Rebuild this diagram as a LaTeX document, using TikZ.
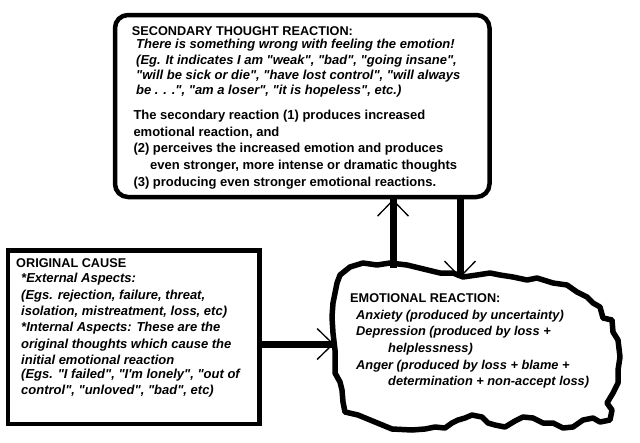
\documentclass[tikz,border=0pt]{standalone}
\usepackage{fontspec}
\setmainfont{Liberation Sans}
\usetikzlibrary{arrows.meta}
\newcommand\quoted[1]{\textquotedbl#1\textquotedbl}

\begin{document}
\begin{tikzpicture}[x=1pt,y=-1pt,
  box/.style={draw,line width=4.5pt,inner sep=0pt},
  head/.style={anchor=base west,inner sep=0pt,font=\fontsize{12.7}{15}\selectfont\bfseries},
  body/.style={anchor=north west,inner sep=0pt,align=left},
  flow/.style={line width=7pt,postaction={draw,line width=1.3pt,-{Straight Barb[length=16pt,width=31pt]}}}]
\useasboundingbox (0,0) rectangle (640,442);

% boxes
\node[box,rounded corners=13pt,minimum width=374.5pt,minimum height=182pt] (second) at (302.25,106) {};
\node[box,minimum width=251.5pt,minimum height=173.5pt] (cause) at (133.75,337.25) {};

% secondary thought reaction
\node[head] (second-head) at (131.7,35.7) {SECONDARY THOUGHT REACTION:};
\node[body,font=\fontsize{13}{15.2}\selectfont\bfseries\itshape] (second-eg) at (136,39.3)
  {There is something wrong with feeling the emotion!\\
   (Eg. It indicates I am \quoted{weak}, \quoted{bad}, \quoted{going insane},\\
   \quoted{will be sick or die}, \quoted{have lost control}, \textquotedbl{}will always\\
   be . . .\textquotedbl, \quoted{am a loser}, \quoted{it is hopeless}, etc.)};
\node[body,font=\fontsize{13}{16.7}\selectfont\bfseries] (second-txt) at (133.3,109.9)
  {The secondary reaction (1) produces increased\\
   emotional reaction, and\\
   (2) perceives the increased emotion and produces\\
   \hspace*{16.7pt}even stronger, more intense or dramatic thoughts\\
   (3) producing even stronger emotional reactions.};

% original cause
\node[head] (cause-head) at (16,267.3) {ORIGINAL CAUSE};
\node[body,font=\fontsize{13}{16.3}\selectfont\bfseries\itshape] (cause-txt) at (21,273.3)
  {*External Aspects:\\
   (Egs. rejection, failure, threat,\\
   isolation, mistreatment, loss, etc)\\
   *Internal Aspects: These are the\\
   original thoughts which cause the\\
   initial emotional reaction};
\node[body,font=\fontsize{13}{16}\selectfont\bfseries\itshape] (cause-eg) at (21,369.3)
  {(Egs. \quoted{I failed}, \quoted{I\textquotesingle m lonely}, \textquotedbl{}out of\\
   control\textquotedbl, \quoted{unloved}, \quoted{bad}, etc)};

% emotional reaction
\draw[line width=5.5pt,line join=round]
  (340,275) -- (350,267) -- (363,263) -- (377,265) -- (390,263) -- (407,265) -- (440,273)
  -- (453,273) -- (463,277) -- (477,275) -- (490,273) -- (500,275) -- (513,277) -- (527,280)
  -- (537,278) -- (553,283) -- (567,285) -- (577,292) -- (587,297) -- (593,303) -- (600,307)
  -- (603,318) -- (612,320) -- (613,332) -- (618,340) -- (620,357) -- (618,370) -- (618,383)
  -- (613,393) -- (607,403) -- (612,410) -- (610,420) -- (600,422) -- (593,418) -- (583,420)
  -- (573,427) -- (563,428) -- (553,423) -- (543,423) -- (533,418) -- (523,417) -- (515,421)
  -- (505,427) -- (495,425) -- (488,423) -- (482,417) -- (472,415) -- (465,418) -- (458,420)
  -- (452,423) -- (445,428) -- (435,427) -- (425,429) -- (412,430) -- (392,429) -- (375,422)
  -- (358,415) -- (345,412) -- (343,402) -- (342,390) -- (340,382) -- (335,373) -- (335,350)
  -- (333,333) -- (332,317) -- (333,303) -- (337,283) -- cycle;
\coordinate (emo-w) at (334,344);
\coordinate (emo-up) at (393,268);
\coordinate (emo-down) at (460,278);

\node[head] (emo-head) at (350,302.3) {EMOTIONAL REACTION:};
\node[body,font=\fontsize{12.8}{16.7}\selectfont\bfseries\itshape] (emo-txt) at (356,309.6)
  {Anxiety (produced by uncertainty)\\
   Depression (produced by loss +\\
   \hspace*{32pt}helplessness)\\
   Anger (produced by loss + blame +\\
   \hspace*{32pt}determination + non-accept loss)};

% arrows
\draw[flow] (cause.east |- emo-w) -- (emo-w);
\draw[flow] (emo-up) -- (emo-up |- second.south);
\draw[flow] (emo-down |- second.south) -- (emo-down);

\end{tikzpicture}
\end{document}
